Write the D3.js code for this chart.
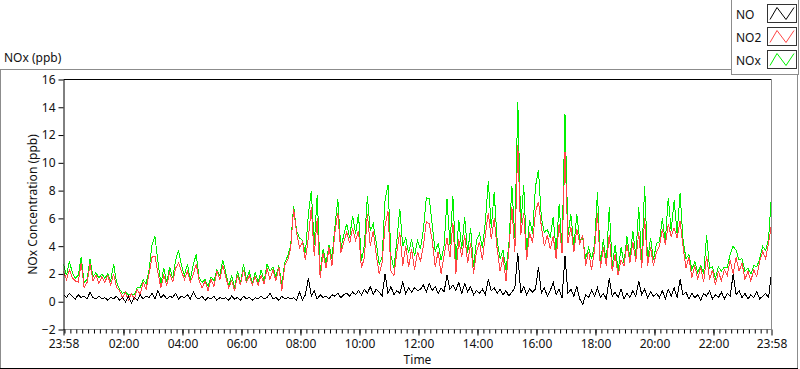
<!DOCTYPE html>
<html>
<head>
<meta charset="utf-8">
<script src="https://cdn.jsdelivr.net/npm/d3@7"></script>
<style>
body { margin: 0; background: #fff; }
text { font-family: "Noto Sans", sans-serif; fill: #111; }
</style>
</head>
<body>
<svg id="chart" width="800" height="369"></svg>
<script>
// one reading every 6 minutes, starting 23:58
var stepMinutes = 6;

var no2 = [
  2.2,1.6,2.3,1.7,1.5,1.4,2.8,1.0,1.4,2.7,
  1.5,1.9,1.3,1.8,1.4,1.9,1.2,2.0,1.0,0.8,
  0.3,0.7,0.1,0.6,0.2,0.9,0.5,1.4,0.9,2.0,
  3.2,3.3,2.1,1.0,1.9,1.2,2.1,1.4,2.4,2.8,
  2.2,1.6,2.2,1.4,2.0,2.7,1.5,1.0,1.5,0.8,
  1.6,1.1,2.2,1.6,2.6,1.8,1.0,1.5,0.8,1.9,
  1.2,2.3,1.4,1.9,1.2,1.8,1.2,1.9,1.3,2.4,
  1.6,2.3,1.5,2.5,0.8,2.6,3.0,3.8,6.7,5.0,
  3.9,4.3,3.0,4.6,6.8,3.3,6.0,1.7,3.5,2.4,
  3.9,2.6,5.0,6.4,3.5,4.3,5.0,4.2,5.3,4.4,
  5.1,2.4,3.2,6.3,4.0,5.1,3.4,2.0,2.8,5.5,
  6.5,2.2,1.9,3.6,5.0,2.6,4.0,2.5,3.8,2.3,
  3.6,2.9,4.0,5.8,5.6,4.4,2.5,3.6,2.0,3.3,
  4.6,3.2,5.7,2.0,4.5,3.2,4.8,2.8,4.2,2.0,
  3.6,4.3,3.0,4.8,6.4,4.5,6.0,3.8,2.2,3.2,
  1.5,3.8,6.8,3.6,11.3,4.8,6.4,3.0,5.0,4.2,
  6.5,7.2,5.4,4.0,4.8,3.8,4.7,3.1,5.6,3.5,
  10.8,4.2,5.4,3.6,5.2,4.2,4.8,2.6,3.6,2.3,
  3.7,6.4,2.4,3.9,2.6,4.8,2.2,3.4,1.9,3.0,
  2.6,4.1,2.8,4.3,2.9,5.0,2.4,6.0,2.6,3.9,
  2.6,3.6,4.0,5.2,4.1,5.6,4.7,5.3,4.6,5.8,
  4.0,2.4,3.2,1.7,2.6,1.6,2.5,1.4,3.3,1.6,
  2.3,1.2,2.2,1.5,2.3,1.9,3.0,2.0,3.2,2.2,
  2.8,1.6,2.2,1.5,2.3,1.8,2.9,3.6,3.1,4.2,5.6
];

var nox = [
  2.7,1.9,2.9,2.1,1.7,1.9,3.2,1.4,1.6,3.1,
  1.8,2.1,1.7,2.0,1.7,2.0,1.5,2.7,1.4,0.9,
  0.6,0.7,0.5,0.5,0.5,1.0,1.0,1.6,1.3,2.3,
  4.1,4.7,2.9,1.3,2.4,1.4,2.5,1.7,3.0,3.7,
  2.6,1.9,2.7,1.6,2.7,3.4,1.7,1.4,1.6,1.1,
  1.8,1.5,2.3,1.9,3.0,2.1,1.1,1.9,1.0,2.2,
  1.3,2.7,1.6,2.2,1.3,2.1,1.4,2.3,1.5,2.7,
  2.2,2.5,1.8,2.6,1.2,2.8,3.3,4.0,6.9,5.1,
  4.6,4.4,3.5,6.3,8.0,4.1,7.7,2.2,3.8,2.8,
  4.1,3.1,5.4,7.4,3.8,4.8,5.6,4.6,6.2,4.9,
  6.3,2.9,4.1,7.6,5.1,5.6,4.3,2.7,3.2,7.3,
  8.4,3.3,2.4,4.4,6.7,4.0,4.6,3.5,4.5,3.3,
  4.4,3.8,5.2,7.5,7.4,5.5,3.6,4.2,3.0,4.0,
  7.4,4.1,7.6,2.8,5.9,3.8,6.1,3.5,5.3,2.5,
  4.4,4.9,3.9,5.7,8.7,5.3,7.9,4.4,3.1,3.7,
  2.3,4.2,8.3,4.6,14.4,5.4,8.4,3.5,5.9,4.9,
  8.3,9.5,6.0,5.0,5.2,4.6,6.1,3.6,7.0,3.8,
  13.5,4.8,6.3,4.0,6.3,4.4,4.6,3.1,3.9,3.1,
  4.1,7.9,2.7,4.5,2.8,6.8,2.6,4.1,2.2,3.9,
  2.8,4.7,3.1,5.1,3.3,6.8,2.9,8.3,2.9,4.6,
  3.0,4.2,4.3,6.0,4.3,7.5,5.1,7.3,4.9,7.8,
  4.5,3.1,3.4,2.3,2.9,2.1,2.6,2.0,4.8,2.4,
  2.5,1.7,2.5,2.2,2.5,2.5,3.4,4.0,3.7,3.0,
  3.1,2.2,2.4,2.0,2.6,2.5,3.1,4.0,3.7,4.5,7.7
];

var no = [
  0.5,0.3,0.6,0.4,0.2,0.5,0.3,0.4,0.2,0.7,
  0.3,0.2,0.4,0.2,0.3,0.1,0.3,0.2,0.4,0.1,
  0.3,0.0,0.4,-0.1,0.3,0.1,0.5,0.2,0.4,0.3,
  0.6,0.2,0.8,0.3,0.5,0.2,0.4,0.3,0.6,0.2,
  0.4,0.3,0.5,0.2,0.7,0.3,0.2,0.4,0.1,0.3,
  0.2,0.4,0.1,0.3,0.2,0.3,0.1,0.4,0.2,0.3,
  0.1,0.4,0.2,0.3,0.1,0.3,0.2,0.4,0.2,0.3,
  0.6,0.2,0.3,0.1,0.4,0.2,0.3,0.2,0.3,0.1,
  0.7,0.1,0.5,1.7,0.4,0.8,0.2,0.5,0.3,0.4,
  0.2,0.5,0.4,0.6,0.3,0.5,0.6,0.4,0.7,0.5,
  0.8,0.5,0.9,0.6,1.1,0.5,0.9,0.7,0.4,2.0,
  0.6,1.1,0.5,0.8,0.6,1.4,0.6,1.0,0.7,1.0,
  0.8,0.9,1.2,0.7,1.3,0.8,1.1,0.6,1.0,0.7,
  1.9,0.9,1.2,0.8,1.4,0.6,1.3,0.7,1.1,0.5,
  0.8,0.6,0.9,0.5,1.6,0.8,1.0,0.6,0.9,0.5,
  0.8,0.4,0.7,1.0,3.5,0.6,1.1,0.5,0.9,0.7,
  0.9,2.5,0.6,1.0,0.4,0.8,1.4,0.5,0.9,0.3,
  3.3,0.6,0.9,0.4,1.1,0.2,-0.2,0.5,0.3,0.8,
  0.4,1.0,0.3,0.6,0.2,1.7,0.4,0.7,0.3,0.9,
  0.2,0.6,0.3,0.8,0.4,1.5,0.5,0.9,0.3,0.7,
  0.4,0.6,0.3,0.8,0.2,0.9,0.4,1.0,0.3,1.6,
  0.5,0.7,0.2,0.6,0.3,0.5,0.1,0.6,0.4,0.8,
  0.2,0.5,0.3,0.7,0.2,0.6,0.4,2.0,0.5,0.8,
  0.3,0.6,0.2,0.5,0.3,0.7,0.2,0.4,0.6,0.3,2.1
];

var yTicks = [-2, 0, 2, 4, 6, 8, 10, 12, 14, 16];
var legendNames = ["NO", "NO2", "NOx"];
var legendColors = ["#000000", "#ff4646", "#00f000"];

var svg = d3.select("#chart");
var plot = {left: 63.5, right: 771.5, top: 79.5, bottom: 329.5};

var start = new Date(2000, 0, 1, 23, 58);
var end = new Date(2000, 0, 2, 23, 58);
var timeAt = function(i) { return d3.timeMinute.offset(start, i * stepMinutes); };

var x = d3.scaleTime().domain([start, end]).range([plot.left, plot.right]);
var y = d3.scaleLinear().domain([-2, 16]).range([plot.bottom, plot.top]);

svg.append("rect").attr("width", 800).attr("height", 369).attr("fill", "#fff");

// outer panel frame
svg.append("line").attr("x1", 0.5).attr("x2", 0.5).attr("y1", 69.5).attr("y2", 368).attr("stroke", "#8c8c8c");
svg.append("line").attr("x1", 0).attr("x2", 798).attr("y1", 69.5).attr("y2", 69.5).attr("stroke", "#8c8c8c");
svg.append("line").attr("x1", 797.5).attr("x2", 797.5).attr("y1", 69.5).attr("y2", 368).attr("stroke", "#8c8c8c");
svg.append("line").attr("x1", 0).attr("x2", 798).attr("y1", 368.5).attr("y2", 368.5).attr("stroke", "#000");

svg.append("text").attr("x", 4).attr("y", 62).style("font-size", "12px").text("NOx (ppb)");

// plot lines, clipped to plot area
svg.append("clipPath").attr("id", "clip").append("rect")
  .attr("x", plot.left).attr("y", plot.top)
  .attr("width", plot.right - plot.left).attr("height", plot.bottom - plot.top);

var line = d3.line()
  .x(function(d, i) { return x(timeAt(i)); })
  .y(function(d) { return y(d); });

var lines = svg.append("g").attr("clip-path", "url(#clip)");
[[nox, legendColors[2]], [no2, legendColors[1]], [no, legendColors[0]]].forEach(function(s) {
  lines.append("path")
    .attr("d", line(s[0]))
    .attr("fill", "none")
    .attr("stroke", s[1])
    .attr("stroke-width", 1)
    .attr("shape-rendering", "crispEdges");
});

// plot border: black top/left, grey right/bottom
svg.append("line").attr("x1", plot.left).attr("x2", plot.right).attr("y1", plot.top).attr("y2", plot.top).attr("stroke", "#000");
svg.append("line").attr("x1", plot.right).attr("x2", plot.right).attr("y1", plot.top).attr("y2", plot.bottom).attr("stroke", "#8c8c8c");
svg.append("line").attr("x1", plot.left).attr("x2", plot.right).attr("y1", plot.bottom).attr("y2", plot.bottom).attr("stroke", "#8c8c8c");

// y axis
var yAxis = svg.append("g")
  .attr("transform", "translate(" + plot.left + ",0)")
  .call(d3.axisLeft(y).tickValues(yTicks).tickSize(5).tickSizeOuter(0).tickPadding(3));
yAxis.selectAll("text").style("font-size", "12px").attr("fill", "#111");
yAxis.select(".domain").attr("stroke", "#000");

svg.append("text")
  .attr("transform", "translate(37," + ((plot.top + plot.bottom) / 2) + ") rotate(-90)")
  .attr("text-anchor", "middle")
  .style("font-size", "12px")
  .text("NOx Concentration (ppb)");

// x axis: both ends plus every 2 h from 02:00, minor every 12 min
var hours = d3.timeHour.every(2).range(d3.timeMinute.offset(start, 60), end);
var majorTicks = [start].concat(hours).concat([end]);
var minorTicks = d3.timeMinute.every(12).range(start, end);

var xMinor = svg.append("g")
  .attr("transform", "translate(0," + plot.bottom + ")")
  .call(d3.axisBottom(x).tickValues(minorTicks).tickSize(4).tickFormat(""));
xMinor.select(".domain").remove();

var xAxis = svg.append("g")
  .attr("transform", "translate(0," + plot.bottom + ")")
  .call(d3.axisBottom(x).tickValues(majorTicks).tickSize(6).tickPadding(4).tickFormat(d3.timeFormat("%H:%M")));
xAxis.select(".domain").remove();
xAxis.selectAll("text").style("font-size", "12px").attr("fill", "#111");

svg.append("text")
  .attr("x", (plot.left + plot.right) / 2)
  .attr("y", 364)
  .attr("text-anchor", "middle")
  .style("font-size", "12px")
  .text("Time");

// legend
var legend = svg.append("g");
legend.append("rect").attr("x", 731.5).attr("y", -0.5).attr("width", 67).attr("height", 75)
  .attr("fill", "#fff").attr("stroke", "#8c8c8c");

legendNames.forEach(function(name, i) {
  var top = 4.5 + i * 23;
  legend.append("text").attr("x", 736).attr("y", top + 14).style("font-size", "12px").text(name);
  legend.append("rect").attr("x", 767.5).attr("y", top).attr("width", 29).attr("height", 18)
    .attr("fill", "#fff").attr("stroke", "#333");
  legend.append("path")
    .attr("d", d3.line()([[770, top + 15], [777, top + 3], [786, top + 15], [794, top + 3]]))
    .attr("fill", "none").attr("stroke", legendColors[i]);
});
</script>
</body>
</html>
